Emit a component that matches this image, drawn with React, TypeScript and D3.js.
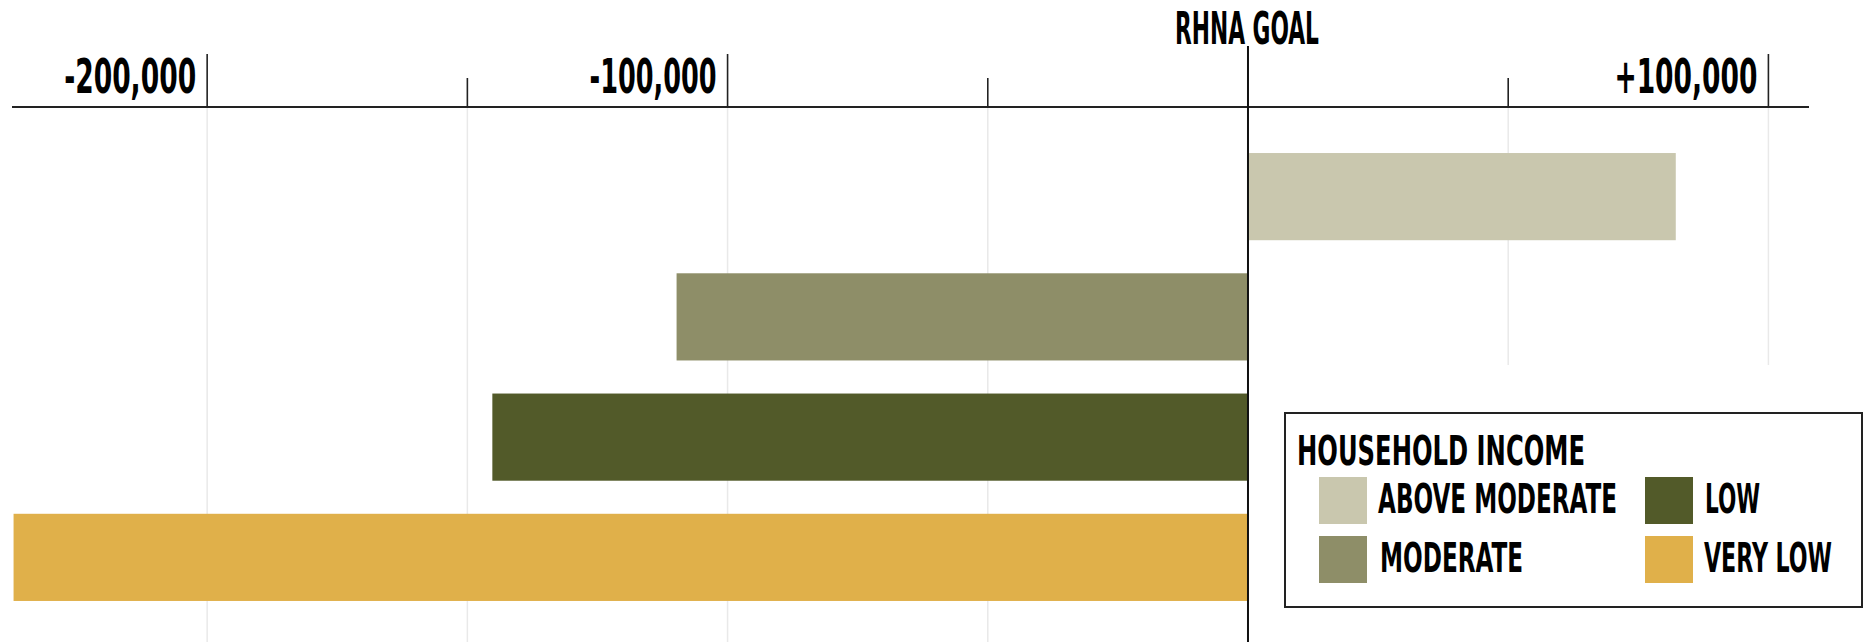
import React from "react";
import * as d3 from "d3";

const categories = ["ABOVE MODERATE", "MODERATE", "LOW", "VERY LOW"];
const values = [82200, -109800, -145200, -237200];
const colors = ["#C9C7AE", "#8E8E68", "#525A29", "#E0B04A"];
const majorTicks = [-200000, -100000, 100000];
const minorTicks = [-150000, -50000, 50000];
const tickLabels = ["-200,000", "-100,000", "+100,000"];
const tickLabelWidths = [132, 127, 143];
const zeroLabel = "RHNA GOAL";
const legendTitle = "HOUSEHOLD INCOME";
const legendOrder = [0, 2, 1, 3];
const legendTextWidths = [239, 55, 143, 128];

const W = 1865;
const H = 642;
const FONT = "'Liberation Sans Narrow', 'DejaVu Sans Condensed', 'Liberation Sans', sans-serif";

export default function App() {
  const x = d3.scaleLinear().domain([-237500, 107800]).range([12, 1809]);
  const y = d3
    .scaleBand<string>()
    .domain(categories)
    .range([136.5, 617.5])
    .paddingInner(0.275)
    .paddingOuter(0.1375);
  const axisY = 107;
  const allTicks = [...majorTicks, ...minorTicks];

  const legendCells = [
    { x: 1319, y: 477, tx: 1378, ty: 513 },
    { x: 1645, y: 477, tx: 1705, ty: 513 },
    { x: 1319, y: 536, tx: 1380, ty: 572 },
    { x: 1645, y: 536, tx: 1704, ty: 572 },
  ];

  return (
    <svg
      width={W}
      height={H}
      style={{ position: "absolute", left: 0, top: 0, background: "#fff" }}
      fontFamily={FONT}
      fontWeight="bold"
    >
      <rect x={0} y={0} width={W} height={H} fill="#fff" />
      {/* gridlines */}
      {allTicks.map((t) => (
        <line
          key={"g" + t}
          x1={x(t)}
          x2={x(t)}
          y1={axisY}
          y2={H}
          stroke="#e9e9e9"
          strokeWidth={1.5}
        />
      ))}
      {/* bars */}
      {categories.map((c, i) => {
        const v = values[i];
        const x0 = x(Math.min(0, v));
        const x1 = x(Math.max(0, v));
        return (
          <rect
            key={c}
            x={x0}
            y={y(c)}
            width={x1 - x0}
            height={y.bandwidth()}
            fill={colors[i]}
          />
        );
      })}
      {/* legend background */}
      <rect x={1256} y={365} width={W - 1256} height={H - 365} fill="#fff" />
      {/* axis line */}
      <line x1={x.range()[0]} x2={x.range()[1]} y1={axisY} y2={axisY} stroke="#222" strokeWidth={2} />
      {majorTicks.map((t) => (
        <line key={"M" + t} x1={x(t)} x2={x(t)} y1={54} y2={axisY} stroke="#222" strokeWidth={1.6} />
      ))}
      {minorTicks.map((t) => (
        <line key={"m" + t} x1={x(t)} x2={x(t)} y1={78} y2={axisY} stroke="#222" strokeWidth={1.6} />
      ))}
      {majorTicks.map((t, i) => (
        <text
          key={"l" + t}
          x={x(t) - 11 - tickLabelWidths[i]}
          y={93}
          fontSize={48}
          textLength={tickLabelWidths[i]}
          lengthAdjust="spacingAndGlyphs"
          fill="#000"
        >
          {tickLabels[i]}
        </text>
      ))}
      {/* zero line */}
      <line x1={x(0)} x2={x(0)} y1={46} y2={H} stroke="#111" strokeWidth={2} />
      <text
        x={x(0) - 73}
        y={44}
        fontSize={45}
        textLength={144}
        lengthAdjust="spacingAndGlyphs"
        fill="#000"
      >
        {zeroLabel}
      </text>
      {/* legend */}
      <rect x={1285} y={413} width={577} height={194} fill="#fff" stroke="#222" strokeWidth={2} />
      <text x={1297} y={465} fontSize={41} textLength={288} lengthAdjust="spacingAndGlyphs" fill="#000">
        {legendTitle}
      </text>
      {legendOrder.map((ci, k) => {
        const cell = legendCells[k];
        return (
          <g key={"lg" + ci}>
            <rect x={cell.x} y={cell.y} width={48} height={47} fill={colors[ci]} />
            <text
              x={cell.tx}
              y={cell.ty}
              fontSize={41}
              textLength={legendTextWidths[k]}
              lengthAdjust="spacingAndGlyphs"
              fill="#000"
            >
              {categories[ci]}
            </text>
          </g>
        );
      })}
    </svg>
  );
}
